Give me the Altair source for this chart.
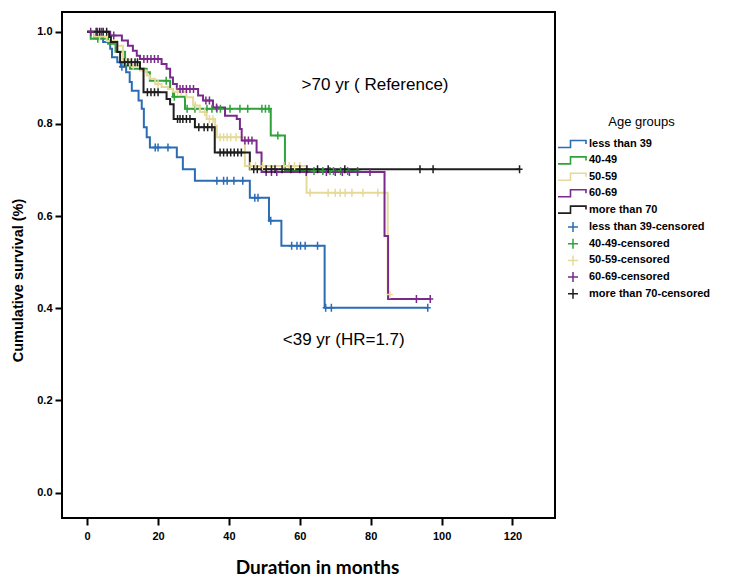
import altair as alt
import pandas as pd

groups = ["less than 39", "40-49", "50-59", "60-69", "more than 70"]
censored_names = [g + "-censored" for g in groups]
colors = ["#2b6cb5", "#2fa23a", "#e6da98", "#7a2a8c", "#1e1e1e"]

# Kaplan-Meier step curves: event times (months) and survival after each step
blue_t = [0, 2.0, 4.5, 6.5, 7.0, 8.5, 9.5, 11.0, 12.0, 12.6, 14.5, 15.4, 16.0, 16.8, 17.7, 25.3, 27.0, 30.4, 45.9, 51.3, 54.8, 67.0]
blue_s = [1.0, 0.989, 0.978, 0.963, 0.945, 0.934, 0.924, 0.912, 0.891, 0.872, 0.851, 0.833, 0.793, 0.771, 0.749, 0.728, 0.702, 0.677, 0.640, 0.590, 0.536, 0.401]
blue_end = 96.1
blue_c = [9.8, 19.2, 20.0, 22.8, 36.6, 38.5, 39.5, 41.4, 43.9, 47.3, 48.2, 51.8, 57.7, 59.2, 60.2, 61.5, 65.0, 67.3, 68.9, 96.1]

green_t = [0, 1.0, 5.9, 8.0, 10.7, 12.1, 16.8, 17.7, 23.4, 24.2, 27.6, 51.8, 55.8]
green_s = [1.0, 0.985, 0.974, 0.957, 0.927, 0.920, 0.912, 0.894, 0.876, 0.859, 0.833, 0.775, 0.698]
green_end = 76.3
green_c = [3.0, 22.3, 24.6, 28.2, 30.4, 33.8, 35.2, 36.6, 37.6, 40.3, 43.1, 45.3, 49.3, 50.3, 51.3, 53.8,
           64.0, 66.5, 68.5, 69.5, 71.5, 73.5, 76.3]

yellow_t = [0, 2.0, 5.5, 8.4, 10.1, 12.1, 14.9, 16.8, 17.7, 19.2, 21.0, 22.8, 24.2, 28.0, 29.9, 31.8, 33.7, 36.1, 36.6, 44.5, 61.9, 84.8]
yellow_s = [1.0, 0.990, 0.980, 0.970, 0.940, 0.927, 0.916, 0.905, 0.898, 0.887, 0.880, 0.876, 0.870, 0.858, 0.840, 0.826, 0.811, 0.796, 0.771, 0.709, 0.651, 0.430]
yellow_end = 85.4
yellow_c = [3.5, 13.0, 20.0, 25.5, 26.5, 30.5, 33.2, 34.5, 35.5, 37.5, 38.5, 39.5, 40.5, 42.0, 46.0, 47.5, 49.5,
            55.5, 57.0, 58.5, 60.0, 62.9, 68.0, 70.0, 71.4, 72.8, 74.7, 77.8, 82.0, 85.4]

purple_t = [0, 6.5, 9.8, 11.5, 12.9, 14.0, 14.9, 21.0, 22.4, 23.4, 24.2, 25.3, 31.3, 32.7, 35.5, 38.9, 42.2, 43.1, 43.6, 47.8, 49.2, 83.9, 84.9]
purple_s = [1.0, 0.992, 0.981, 0.970, 0.959, 0.948, 0.941, 0.930, 0.920, 0.901, 0.887, 0.876, 0.862, 0.851, 0.836, 0.818, 0.811, 0.789, 0.764, 0.738, 0.696, 0.557, 0.420]
purple_end = 96.8
purple_c = [1.0, 2.5, 4.0, 7.5, 16.0, 17.0, 18.0, 19.0, 20.0, 26.2, 27.0, 28.0, 29.0, 30.0, 33.5, 34.5, 36.5,
            44.5, 45.5, 46.5, 50.5, 52.0, 53.5, 61.8, 67.5, 70.0, 72.0, 74.0, 76.3, 79.8, 92.9, 96.8]

black_t = [0, 6.2, 6.7, 8.5, 9.3, 14.9, 15.9, 22.4, 23.4, 24.4, 30.4, 36.0, 45.9]
black_s = [1.0, 0.989, 0.978, 0.956, 0.934, 0.920, 0.869, 0.854, 0.843, 0.811, 0.793, 0.738, 0.702]
black_end = 122.0
black_c = [2.8, 3.5, 4.5, 5.5, 10.5, 11.5, 12.5, 13.5, 14.2, 17.0, 18.0, 19.0, 20.0, 25.5, 26.2, 27.0, 28.0, 29.0,
           31.5, 33.0, 34.0, 35.2, 37.5, 38.5, 39.5, 40.5, 41.5, 42.5, 43.5, 47.0, 48.0, 50.5, 52.0, 53.0, 55.0,
           57.5, 60.0, 62.0, 65.0, 68.0, 72.7, 93.9, 97.6, 122.0]

x_ticks = [0, 20, 40, 60, 80, 100, 120]
y_ticks = [0.0, 0.2, 0.4, 0.6, 0.8, 1.0]

annot_text = [">70 yr ( Reference)", "<39 yr (HR=1.7)"]
annot_x = [60.5, 55.2]
annot_y = [0.884, 0.331]

series = [
    (blue_t, blue_s, blue_end, blue_c),
    (green_t, green_s, green_end, green_c),
    (yellow_t, yellow_s, yellow_end, yellow_c),
    (purple_t, purple_s, purple_end, purple_c),
    (black_t, black_s, black_end, black_c),
]


def step_value(ts, ss, t):
    v = ss[0]
    for ti, si in zip(ts, ss):
        if ti <= t:
            v = si
    return v


line_rows = []
cens_rows = []
for gi, (ts, ss, end, cs) in enumerate(series):
    g = groups[gi]
    k = 0
    for ti, si in zip(ts, ss):
        line_rows.append({"group": g, "t": ti, "s": si, "k": k, "gi": gi})
        k += 1
    line_rows.append({"group": g, "t": end, "s": ss[-1], "k": k, "gi": gi})
    for c in cs:
        cens_rows.append({"cgroup": censored_names[gi], "t": c, "s": step_value(ts, ss, c), "gi": gi})

line_df = pd.DataFrame(line_rows)
cens_df = pd.DataFrame(cens_rows)
annot_df = pd.DataFrame({"label": annot_text, "t": annot_x, "s": annot_y})

FONT = "Liberation Sans"
xscale = alt.Scale(domain=[-7.1, 132.0], nice=False, zero=False)
yscale = alt.Scale(domain=[-0.055, 1.043], nice=False, zero=False)

xenc = alt.X("t:Q", scale=xscale, axis=alt.Axis(
    title="Duration in months", values=x_ticks, format="d", grid=False, domain=False,
    tickColor="black", tickWidth=2, tickSize=7, labelPadding=5,
    labelFont=FONT, labelFontSize=11, labelFontWeight="bold", labelColor="black",
    titleFont="Lato", titleFontSize=19, titleFontWeight="bold", titleColor="black",
    titleX=255, titleY=49, titleAlign="center", titleBaseline="middle"))
yenc = alt.Y("s:Q", scale=yscale, axis=alt.Axis(
    title="Cumulative survival (%)", values=y_ticks, format=".1f", grid=False, domain=False,
    tickColor="black", tickWidth=2, tickSize=7, labelPadding=3,
    labelFont=FONT, labelFontSize=11, labelFontWeight="bold", labelColor="black",
    titleFont=FONT, titleFontSize=14.5, titleFontWeight="bold", titleColor="black",
    titleX=-44, titleY=268, titleAngle=-90, titleAlign="center", titleBaseline="middle"))

lines = alt.Chart(line_df).mark_line(interpolate="step-after", strokeWidth=2).encode(
    x=xenc, y=yenc,
    stroke=alt.Stroke("group:N", scale=alt.Scale(domain=groups, range=colors),
                      legend=alt.Legend(title=None, orient="none", legendX=505, legendY=126,
                                        symbolType="M-3,0.7H-0.5V-0.7H2.6V0", symbolSize=100,
                                        symbolStrokeWidth=1.6, symbolFillColor="transparent",
                                        labelFont=FONT, labelFontSize=11, labelFontWeight="bold",
                                        labelColor="black", labelOffset=10, rowPadding=2.4, padding=0)),
    order=alt.Order("k:Q"),
)

points = alt.Chart(cens_df).mark_point(shape="M-0.75,0H0.75M0,-1V1", filled=False, size=64,
                                       strokeWidth=1.5, opacity=1).encode(
    x="t:Q", y="s:Q",
    color=alt.Color("cgroup:N", scale=alt.Scale(domain=censored_names, range=colors),
                    legend=alt.Legend(title=None, orient="none", legendX=505, legendY=209,
                                      symbolType="M-1,0H1M0,-1V1", symbolSize=100,
                                      symbolStrokeWidth=1.5, symbolFillColor="transparent",
                                      labelFont=FONT, labelFontSize=11, labelFontWeight="bold",
                                      labelColor="black", labelOffset=10, rowPadding=0.7, padding=0)),
)

annots = alt.Chart(annot_df).mark_text(font=FONT, fontSize=17, align="left", baseline="middle",
                                       color="black").encode(
    x="t:Q", y="s:Q", text="label:N")

legend_title = alt.Chart(pd.DataFrame({"label": ["Age groups"]})).mark_text(
    font=FONT, fontSize=13, align="center", baseline="middle", color="black").encode(
    x=alt.value(579.5), y=alt.value(109.7), text="label:N")

chart = alt.layer(lines, points, annots, legend_title).properties(
    width=493, height=506,
    autosize=alt.AutoSizeParams(type="none"),
    padding={"left": 54, "top": 4, "right": 190, "bottom": 58},
    background="white",
).configure_view(stroke="black", strokeWidth=2).resolve_scale(color="independent")

chart.save("out.html", embed_options={"renderer": "svg", "actions": False})
